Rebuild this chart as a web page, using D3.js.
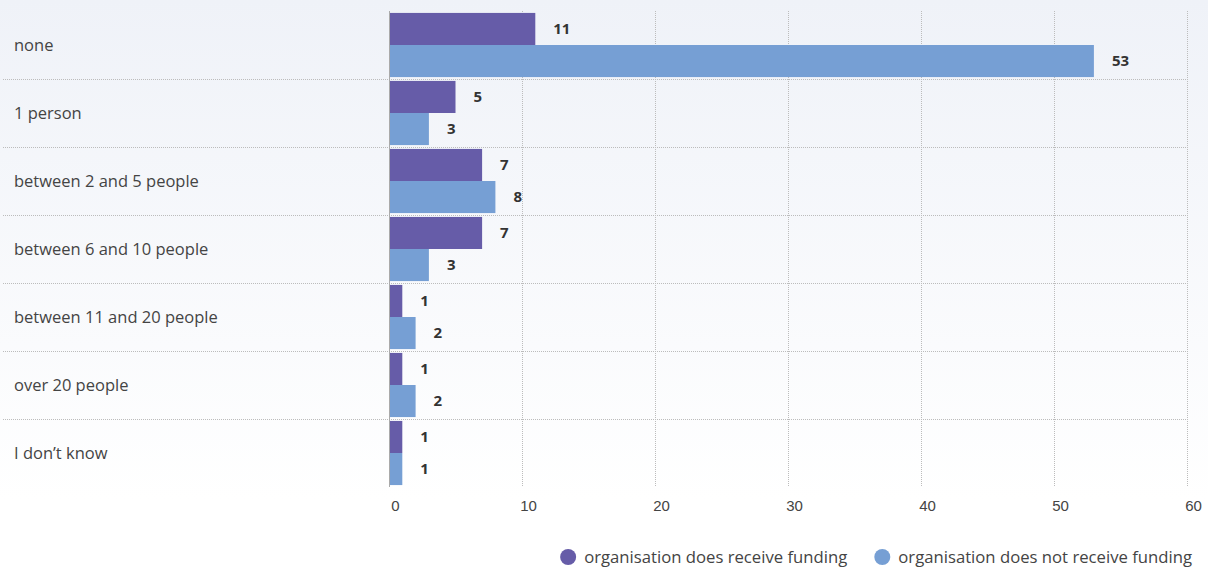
<!DOCTYPE html>
<html>
<head>
<meta charset="utf-8">
<script src="https://cdn.jsdelivr.net/npm/d3@7"></script>
<style>
  html, body { margin: 0; padding: 0; background: #ffffff; }
  svg { display: block; font-family: "Open Sans", Lato, sans-serif; }
</style>
</head>
<body>
<svg id="chart" width="1208" height="568"></svg>
<script>
// Team size categories and respondent counts per funding status
const categories = ["none", "1 person", "between 2 and 5 people", "between 6 and 10 people",
  "between 11 and 20 people", "over 20 people", "I don\u2019t know"];
const seriesNames = ["organisation does receive funding", "organisation does not receive funding"];
const funded = [11, 5, 7, 7, 1, 1, 1];
const notFunded = [53, 3, 8, 3, 2, 2, 1];
const xTicks = [0, 10, 20, 30, 40, 50, 60];
const colors = ["#665ca8", "#769fd4"];

const W = 1208, H = 568;
const margin = { left: 389, right: 21, top: 11, bottom: 81 };
const svg = d3.select("#chart");

// background wash
const defs = svg.append("defs");
const grad = defs.append("linearGradient").attr("id", "bg").attr("x1", 0).attr("y1", 0).attr("x2", 0).attr("y2", 1);
grad.append("stop").attr("offset", "0%").attr("stop-color", "#eff2f8");
grad.append("stop").attr("offset", "88%").attr("stop-color", "#ffffff");
svg.append("rect").attr("width", W).attr("height", H).attr("fill", "url(#bg)");

const x = d3.scaleLinear().domain([0, 60]).range([margin.left, W - margin.right]);
const y = d3.scaleBand().domain(categories).range([margin.top, H - margin.bottom]).paddingInner(0);
const inner = d3.scaleBand().domain([0, 1]).range([0, y.bandwidth()]).paddingInner(0).paddingOuter(0.06);

const plotTop = margin.top, plotBottom = H - margin.bottom;

// vertical dotted gridlines
svg.append("g").selectAll("line").data(xTicks).join("line")
  .attr("x1", d => x(d) + 0.5).attr("x2", d => x(d) + 0.5)
  .attr("y1", plotTop).attr("y2", plotBottom)
  .attr("stroke", "#bcbcbc").attr("stroke-width", 1).attr("stroke-dasharray", "1,1");

// row separators
svg.append("g").selectAll("line").data(categories.slice(1)).join("line")
  .attr("x1", 3).attr("x2", x(60) + 1)
  .attr("y1", d => y(d) + 0.5).attr("y2", d => y(d) + 0.5)
  .attr("stroke", "#bcbcbc").attr("stroke-width", 1).attr("stroke-dasharray", "1,1");

// x axis labels
const xAxis = d3.axisBottom(x).tickValues(xTicks).tickSize(0).tickPadding(0);
const gx = svg.append("g").attr("transform", `translate(0,${plotBottom})`).call(xAxis);
gx.select(".domain").remove();
gx.selectAll("text").attr("dx", 6).attr("dy", 24).attr("font-size", 15)
  .attr("fill", "#444").style("font-family", "inherit");

// category labels
svg.append("g").selectAll("text").data(categories).join("text")
  .attr("x", 14).attr("y", d => y(d) + y.bandwidth() / 2 + 6)
  .attr("font-size", 16.5).attr("fill", "#444").text(d => d);

// bars
const rows = categories.map((c, i) => ({ cat: c, vals: [funded[i], notFunded[i]] }));
const groups = svg.append("g").selectAll("g").data(rows).join("g")
  .attr("transform", d => `translate(0,${y(d.cat)})`);
groups.selectAll("rect").data(d => d.vals.map((v, s) => ({ v, s }))).join("rect")
  .attr("x", x(0)).attr("y", d => inner(d.s))
  .attr("width", d => x(d.v) - x(0)).attr("height", inner.bandwidth())
  .attr("fill", d => colors[d.s]);
groups.selectAll("text").data(d => d.vals.map((v, s) => ({ v, s }))).join("text")
  .attr("x", d => x(d.v) + 18).attr("y", d => inner(d.s) + inner.bandwidth() / 2 + 5)
  .attr("font-size", 15).attr("font-weight", "bold").attr("fill", "#333")
  .text(d => d.v);

// axis line at zero
svg.append("line").attr("x1", x(0) + 0.5).attr("x2", x(0) + 0.5)
  .attr("y1", plotTop).attr("y2", plotBottom).attr("stroke", "#aaa");

// legend, right aligned
const legendGap = 27;
const legend = svg.append("g");
const items = legend.selectAll("g").data(seriesNames).join("g");
items.append("circle").attr("r", 8).attr("cy", 0).attr("fill", (d, i) => colors[i]);
items.append("text").attr("x", 16).attr("y", 6).attr("font-size", 16.7).attr("fill", "#444").text(d => d);
let cursor = 0;
items.each(function () {
  const g = d3.select(this);
  g.attr("transform", `translate(${cursor + 8},0)`);
  cursor += 8 + 16 + g.select("text").node().getComputedTextLength() + legendGap;
});
const totalW = cursor - legendGap;
legend.attr("transform", `translate(${1192 - totalW},557)`);
</script>
</body>
</html>
